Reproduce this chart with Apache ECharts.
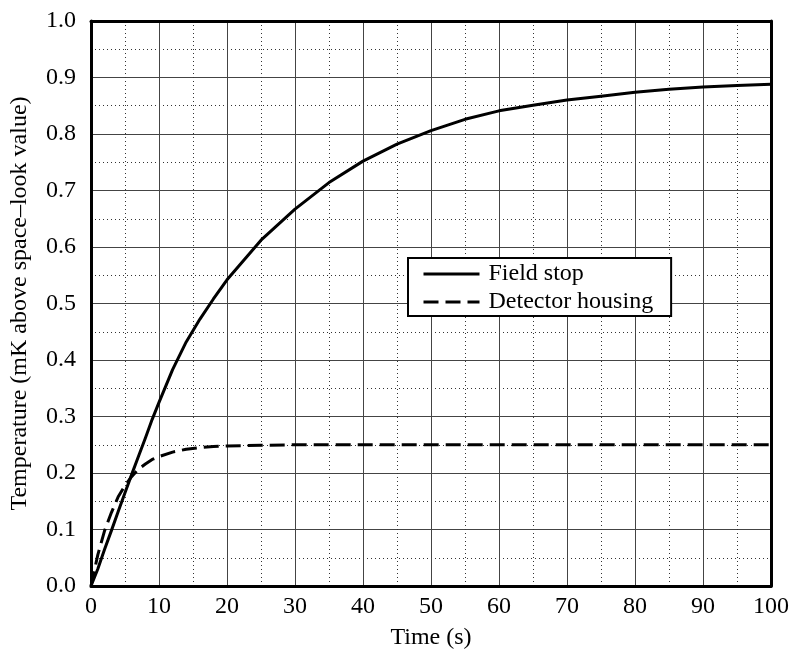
<!DOCTYPE html>
<html>
<head>
<meta charset="utf-8">
<title>Temperature response</title>
<script src="https://cdn.jsdelivr.net/npm/echarts@6/dist/echarts.min.js"></script>
<style>
  html, body { margin: 0; padding: 0; background: #fff; }
  #chart { width: 794px; height: 655px; }
</style>
</head>
<body>
<div id="chart"></div>
<script>
// Time samples (s) and temperatures (mK above space-look value)
const fieldStopTime = [0, 1, 2, 3, 4, 5, 6, 7, 8, 9, 10, 12, 14, 16, 18, 20, 25, 30, 35, 40, 45, 50, 55, 60, 65, 70, 75, 80, 85, 90, 95, 100];
const fieldStopTemp = [0, 0.03, 0.065, 0.098, 0.132, 0.165, 0.198, 0.23, 0.262, 0.295, 0.325, 0.383, 0.432, 0.472, 0.508, 0.542, 0.612, 0.667, 0.714, 0.752, 0.782, 0.806, 0.826, 0.841, 0.851, 0.86, 0.867, 0.874, 0.879, 0.883, 0.886, 0.888];

const housingTime = [0, 1, 2, 3, 4, 5, 6, 7, 8, 9, 10, 12, 14, 16, 18, 20, 25, 30, 40, 50, 60, 70, 80, 90, 100];
const housingTemp = [0, 0.055, 0.098, 0.13, 0.158, 0.178, 0.194, 0.207, 0.216, 0.224, 0.229, 0.237, 0.242, 0.245, 0.247, 0.248, 0.249, 0.25, 0.25, 0.25, 0.25, 0.25, 0.25, 0.25, 0.25];

const seriesNames = ['Field stop', 'Detector housing'];
const xTitle = 'Time (s)';
const yTitle = 'Temperature (mK above space\u2013look value)';

const pairs = (xs, ys) => xs.map((x, i) => [x, ys[i]]);

const serif = "'Liberation Serif', 'Times New Roman', serif";
const labelStyle = { fontFamily: serif, fontSize: 24, color: '#000' };

const chart = echarts.init(document.getElementById('chart'), null, { renderer: 'canvas' });

const majorGrid = { show: true, lineStyle: { color: '#444', width: 1, type: 'solid' } };
const minorGrid = { show: true, lineStyle: { color: '#333', width: 1, type: [1, 3] } };
const frameLine = { show: true, onZero: false, lineStyle: { color: '#000', width: 3 } };

chart.setOption({
  animation: false,
  backgroundColor: '#fff',
  grid: { left: 89, top: 21, width: 682, height: 566, containLabel: false },
  legend: {
    data: seriesNames,
    orient: 'vertical',
    left: 408,
    top: 258,
    padding: [4, 18, 2, 14],
    itemWidth: 56,
    itemHeight: 14,
    itemGap: 4,
    borderColor: '#000',
    borderWidth: 2,
    backgroundColor: '#fff',
    itemStyle: { color: 'rgba(0,0,0,0)', borderWidth: 0 },
    lineStyle: { width: 3 },
    textStyle: { fontFamily: serif, fontSize: 24, color: '#000', lineHeight: 24, padding: [0, 0, 0, 4] }
  },
  xAxis: [
    {
      type: 'value', min: 0, max: 100, interval: 10,
      name: xTitle, nameLocation: 'middle', nameGap: 40,
      nameTextStyle: labelStyle,
      axisLine: frameLine,
      axisTick: { show: false },
      axisLabel: Object.assign({ margin: 9 }, labelStyle),
      splitLine: majorGrid,
      minorTick: { show: false, splitNumber: 2 },
      minorSplitLine: minorGrid
    },
    {
      type: 'value', min: 0, max: 100, position: 'top',
      axisLine: frameLine,
      axisTick: { show: false }, axisLabel: { show: false }, splitLine: { show: false }
    }
  ],
  yAxis: [
    {
      type: 'value', min: 0, max: 1, interval: 0.1,
      name: yTitle, nameLocation: 'middle', nameGap: 59,
      nameTextStyle: labelStyle,
      axisLine: frameLine,
      axisTick: { show: false },
      axisLabel: Object.assign({ margin: 15, formatter: v => v.toFixed(1) }, labelStyle),
      splitLine: majorGrid,
      minorTick: { show: false, splitNumber: 2 },
      minorSplitLine: minorGrid
    },
    {
      type: 'value', min: 0, max: 1, position: 'right',
      axisLine: frameLine,
      axisTick: { show: false }, axisLabel: { show: false }, splitLine: { show: false }
    }
  ],
  series: [
    {
      name: seriesNames[0], type: 'line',
      data: pairs(fieldStopTime, fieldStopTemp),
      showSymbol: false, symbol: 'none',
      smooth: false,
      lineStyle: { color: '#000', width: 3, type: 'solid', join: 'round' },
      itemStyle: { color: '#000' },
      z: 5
    },
    {
      name: seriesNames[1], type: 'line',
      data: pairs(housingTime, housingTemp),
      showSymbol: false, symbol: 'none',
      smooth: false,
      lineStyle: { color: '#000', width: 3, type: [15, 7], join: 'round' },
      itemStyle: { color: '#000' },
      z: 5
    }
  ]
});
</script>
</body>
</html>
